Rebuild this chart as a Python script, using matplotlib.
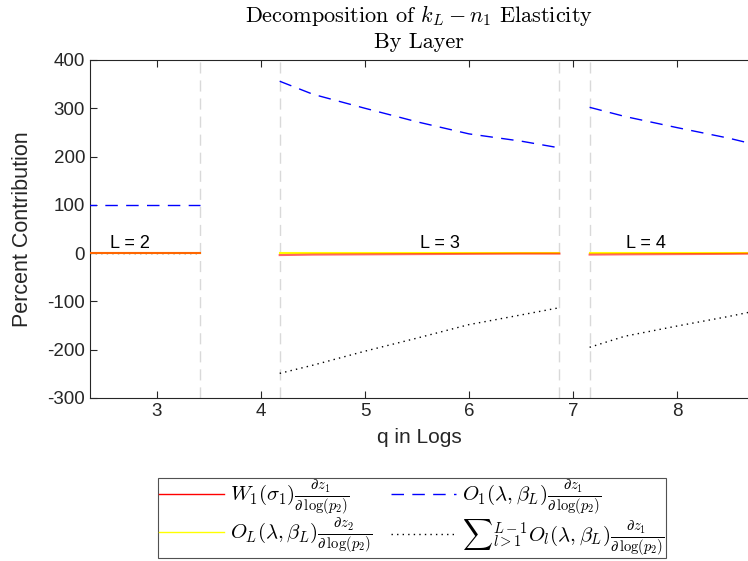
import matplotlib.pyplot as plt
import numpy as np

plt.rcParams['font.family'] = ['Liberation Sans', 'DejaVu Sans']
plt.rcParams['mathtext.fontset'] = 'cm'
plt.rcParams['axes.unicode_minus'] = False

# layer segments (q in logs)
x_l2 = [2.30, 2.8, 3.41]
x_l3 = [4.18, 4.5, 5.0, 5.5, 6.0, 6.5, 6.87]
x_l4 = [7.16, 7.5, 8.0, 8.5, 8.75]

# W1 term (red)
w1_l2 = [0, 0, 0]
w1_l3 = [-4, -3, -2.5, -2, -1.5, -1, -1]
w1_l4 = [-3, -2.5, -2, -1.5, -1]

# O_L term (yellow)
ol_l2 = [0, 0, 0]
ol_l3 = [1, 1, 1, 1, 1, 1, 1]
ol_l4 = [1, 1, 1, 1, 1]

# O_1 term (blue dashed)
o1_l2 = [100, 100, 100]
o1_l3 = [356, 329, 300, 272, 247, 232, 218]
o1_l4 = [302, 283, 260, 238, 225]

# sum of middle layers (black dotted)
mid_l2 = [0, 0, 0]
mid_l3 = [-249, -232, -203, -176, -148, -128, -113]
mid_l4 = [-195, -172, -151, -131, -120]

breaks = [3.41, 4.18, 6.87, 7.16]
layer_labels = ['L = 2', 'L = 3', 'L = 4']
label_x = [2.74, 5.72, 7.70]

fig = plt.figure(figsize=(7.48, 5.61), dpi=100)
ax = fig.add_axes([90/748, 1 - 398/561, 658/748, 338/561])

segs = [(x_l2, w1_l2, ol_l2, o1_l2, mid_l2),
        (x_l3, w1_l3, ol_l3, o1_l3, mid_l3),
        (x_l4, w1_l4, ol_l4, o1_l4, mid_l4)]

for i, (x, w1, ol, o1, mid) in enumerate(segs):
    lab = (i == 0)
    ax.plot(x, ol, color=(1, 1, 0), lw=1.5, zorder=3,
            label=r'$O_L(\lambda,\beta_L)\frac{\partial z_2}{\partial\,\log(p_2)}$' if lab else None)
    ax.plot(x, w1, color=(1, 0, 0), lw=1.5, alpha=0.6, zorder=4,
            label=r'$W_1(\sigma_1)\frac{\partial z_1}{\partial\,\log(p_2)}$' if lab else None)
    ax.plot(x, o1, color=(0, 0, 1), lw=1, ls=(0, (9, 6)), zorder=3,
            label=r'$O_1(\lambda,\beta_L)\frac{\partial z_1}{\partial\,\log(p_2)}$' if lab else None)
    ax.plot(x, mid, color='black', lw=1, ls=(0, (1, 3)), zorder=2,
            label=r'${\sum}_{l>1}^{L-1}O_l(\lambda,\beta_L)\frac{\partial z_1}{\partial\,\log(p_2)}$' if lab else None)

for b in breaks:
    ax.axvline(b, color='#d9d9d9', lw=1, ls=(0, (8, 5)), zorder=1)

for t, xx in zip(layer_labels, label_x):
    ax.text(xx, 2, t, ha='center', va='bottom', fontsize=13)

ax.set_xlim(2.356, 8.683)
ax.set_ylim(-300, 400)
ax.set_xticks([3, 4, 5, 6, 7, 8])
ax.set_yticks(range(-300, 401, 100))
ax.tick_params(direction='in', top=True, right=False, labelsize=13.5, colors='#262626', length=5)
for s in ['left', 'bottom', 'top']:
    ax.spines[s].set_color('#262626')
ax.spines['right'].set_visible(False)

ax.set_xlabel('q in Logs', fontsize=15, color='#262626', labelpad=6)
ax.set_ylabel('Percent Contribution', fontsize=15.5, color='#262626', labelpad=10)
ax.set_title('Decomposition of $k_L - n_1$ Elasticity\nBy Layer', fontfamily='cmr10',
             fontsize=16, linespacing=1.25, pad=9)

h, l = ax.get_legend_handles_labels()
order = [1, 0, 2, 3]
leg = fig.legend([h[k] for k in order], [l[k] for k in order], ncol=2,
                 loc='upper center', bbox_to_anchor=(412/748, 1 - 478/561),
                 fontsize=15, frameon=True, fancybox=False, edgecolor='#262626',
                 handlelength=3.1, columnspacing=0.9, handletextpad=0.3,
                 labelspacing=0.0, borderpad=0.05, borderaxespad=0)
leg.get_frame().set_linewidth(0.8)
for lh in leg.legend_handles:
    lh.set_alpha(1)
    lh.set_linewidth(1)

fig.savefig('out.png', dpi=100)
